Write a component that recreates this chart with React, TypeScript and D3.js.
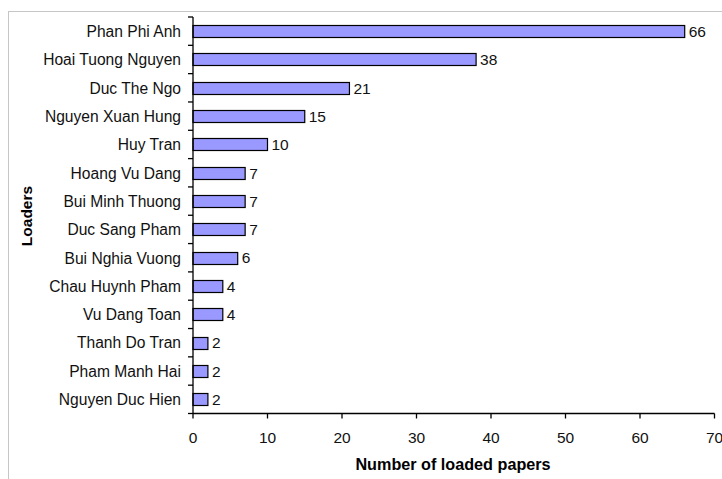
import React, { useEffect, useRef } from 'react';
import * as d3 from 'd3';

const loaders = [
  'Phan Phi Anh',
  'Hoai Tuong Nguyen',
  'Duc The Ngo',
  'Nguyen Xuan Hung',
  'Huy Tran',
  'Hoang Vu Dang',
  'Bui Minh Thuong',
  'Duc Sang Pham',
  'Bui Nghia Vuong',
  'Chau Huynh Pham',
  'Vu Dang Toan',
  'Thanh Do Tran',
  'Pham Manh Hai',
  'Nguyen Duc Hien',
];
const papers = [66, 38, 21, 15, 10, 7, 7, 7, 6, 4, 4, 2, 2, 2];
const xTicks = [0, 10, 20, 30, 40, 50, 60, 70];

const App = () => {
  const svgRef = useRef(null);

  const width = 722;
  const height = 479;
  const left = 193;
  const right = 714.5;
  const top = 17;
  const bottom = 413.5;
  const font = 'Liberation Sans, Arial, sans-serif';

  useEffect(() => {
    const svg = d3.select(svgRef.current);
    svg.selectAll('*').remove();

    // chart frame
    svg
      .append('rect')
      .attr('x', 8.5)
      .attr('y', 11.5)
      .attr('width', 800)
      .attr('height', 600)
      .attr('fill', 'white')
      .attr('stroke', '#c6c6c6');

    const xScale = d3.scaleLinear().domain([0, 70]).range([left, right]);
    const yScale = d3.scaleBand().domain(loaders).range([top, bottom]).paddingInner(0.57).paddingOuter(0.285);
    const band = (bottom - top) / loaders.length;

    // bars
    svg
      .selectAll('.bar')
      .data(papers)
      .enter()
      .append('rect')
      .attr('class', 'bar')
      .attr('x', xScale(0))
      .attr('y', (d, i) => Math.round(yScale(loaders[i])) + 0.5)
      .attr('width', (d) => xScale(d) - xScale(0))
      .attr('height', Math.round(yScale.bandwidth()))
      .attr('fill', '#9999ff')
      .attr('stroke', '#000')
      .attr('stroke-width', 1.2);

    // value labels
    svg
      .selectAll('.val')
      .data(papers)
      .enter()
      .append('text')
      .attr('x', (d) => xScale(d) + 4)
      .attr('y', (d, i) => yScale(loaders[i]) + yScale.bandwidth() / 2)
      .attr('dy', '0.37em')
      .attr('font-family', font)
      .attr('font-size', 15.5)
      .attr('fill', '#111')
      .text((d) => d);

    // y axis
    const yAxis = svg.append('g');
    yAxis
      .append('line')
      .attr('x1', left)
      .attr('x2', left)
      .attr('y1', top)
      .attr('y2', bottom)
      .attr('stroke', '#000')
      .attr('stroke-width', 1.3);
    d3.range(loaders.length + 1).forEach((i) => {
      yAxis
        .append('line')
        .attr('x1', left - 5)
        .attr('x2', left)
        .attr('y1', top + i * band)
        .attr('y2', top + i * band)
        .attr('stroke', '#000')
        .attr('stroke-width', 1.3);
    });
    yAxis
      .selectAll('.ylab')
      .data(loaders)
      .enter()
      .append('text')
      .attr('x', left - 12)
      .attr('y', (d) => yScale(d) + yScale.bandwidth() / 2)
      .attr('dy', '0.37em')
      .attr('text-anchor', 'end')
      .attr('font-family', font)
      .attr('font-size', 15.6)
      .attr('fill', '#111')
      .text((d) => d);

    // x axis
    const xAxis = svg.append('g');
    xAxis
      .append('line')
      .attr('x1', left)
      .attr('x2', right)
      .attr('y1', bottom)
      .attr('y2', bottom)
      .attr('stroke', '#000')
      .attr('stroke-width', 1.3);
    xAxis
      .selectAll('.xt')
      .data(xTicks)
      .enter()
      .append('line')
      .attr('x1', (d) => xScale(d))
      .attr('x2', (d) => xScale(d))
      .attr('y1', bottom)
      .attr('y2', bottom + 5)
      .attr('stroke', '#000')
      .attr('stroke-width', 1.3);
    xAxis
      .selectAll('.xl')
      .data(xTicks)
      .enter()
      .append('text')
      .attr('x', (d) => xScale(d))
      .attr('y', 443)
      .attr('text-anchor', 'middle')
      .attr('font-family', font)
      .attr('font-size', 15.5)
      .attr('fill', '#111')
      .text((d) => d);

    // axis titles
    svg
      .append('text')
      .attr('x', 453)
      .attr('y', 470)
      .attr('text-anchor', 'middle')
      .attr('font-family', font)
      .attr('font-size', 16.2)
      .attr('font-weight', 'bold')
      .text('Number of loaded papers');

    svg
      .append('text')
      .attr('transform', 'translate(32, 216) rotate(-90)')
      .attr('text-anchor', 'middle')
      .attr('font-family', font)
      .attr('font-size', 15.5)
      .attr('font-weight', 'bold')
      .text('Loaders');
  }, []);

  return (
    <svg
      ref={svgRef}
      width={width}
      height={height}
      style={{ position: 'absolute', left: 0, top: 0, background: 'white' }}
    />
  );
};

export default App;
